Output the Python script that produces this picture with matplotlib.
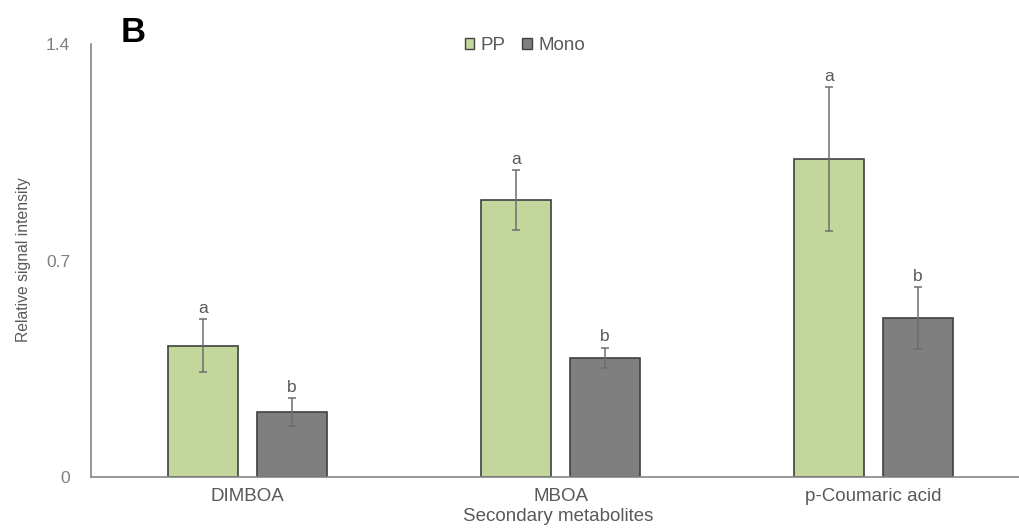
import matplotlib
matplotlib.use("Agg")
import matplotlib.pyplot as plt
import numpy as np
from matplotlib.patches import Patch

plt.rcParams["font.family"] = ["Liberation Sans", "DejaVu Sans"]

metabolites = ["DIMBOA", "MBOA", "p-Coumaric acid"]
pp_mean = [0.425, 0.896, 1.028]
pp_err = [0.086, 0.097, 0.233]
mono_mean = [0.211, 0.386, 0.514]
mono_err = [0.045, 0.032, 0.099]
pp_letters = ["a", "a", "a"]
mono_letters = ["b", "b", "b"]
yticks = [0, 0.7, 1.4]
ytick_labels = ["0", "0.7", "1.4"]

GREEN = "#c3d69b"
GREY = "#7f7f7f"
EDGE = "#404040"
TXT = "#595959"

fig = plt.figure(figsize=(10.19, 5.29), dpi=100)
ax = fig.add_axes([0.0893, 0.0983, 0.9215, 0.8185])

x = np.arange(len(metabolites))
off, w = 0.142, 0.226
for xs, means, errs, col, lab, letters in (
        (x - off, pp_mean, pp_err, GREEN, "PP", pp_letters),
        (x + off, mono_mean, mono_err, GREY, "Mono", mono_letters)):
    ax.bar(xs, means, width=w, color=col, edgecolor=EDGE, linewidth=1.2,
           label=lab, zorder=2)
    ax.errorbar(xs, means, yerr=errs, fmt="none", ecolor="#6e6e6e",
                elinewidth=1.1, capsize=2.6, capthick=1.1, zorder=3)
    for xi, m, e, t in zip(xs, means, errs, letters):
        ax.annotate(t, (xi, m + e), xytext=(0, 4.5), textcoords="offset points",
                    ha="center", va="baseline", fontsize=12.5, color=TXT)

ax.set_xlim(-0.5, 2.5)
ax.set_ylim(0, 1.4)
ax.set_xticks(x)
ax.set_xticklabels(metabolites, fontsize=13.5, color=TXT)
ax.set_yticks(yticks)
ax.set_yticklabels(ytick_labels, fontsize=12.5, color="#808080")
ax.tick_params(axis="both", length=0)
ax.tick_params(axis="x", pad=8)
ax.tick_params(axis="y", pad=15)
for s in ("top", "right"):
    ax.spines[s].set_visible(False)
for s in ("left", "bottom"):
    ax.spines[s].set_color("#868686")
    ax.spines[s].set_linewidth(1.2)

fig.text(0.548, 0.015, "Secondary metabolites", ha="center", va="baseline",
         fontsize=13.5, color=TXT)
fig.text(0.0235, 0.5085, "Relative signal intensity", rotation=90,
         ha="center", va="center", fontsize=11.3, color=TXT)
fig.text(0.1187, 0.9206, "B", fontsize=25, weight="bold", color="black",
         va="baseline")

handles = [Patch(facecolor=GREEN, edgecolor=EDGE, label="PP"),
           Patch(facecolor=GREY, edgecolor=EDGE, label="Mono")]
leg = fig.legend(handles=handles, loc="center", bbox_to_anchor=(0.515, 0.914),
                 ncol=2, frameon=False, fontsize=13.5, handlelength=0.5,
                 handleheight=0.5, handletextpad=0.35, columnspacing=0.9)
for t in leg.get_texts():
    t.set_color(TXT)

fig.savefig("out.png", dpi=100, facecolor="white")
